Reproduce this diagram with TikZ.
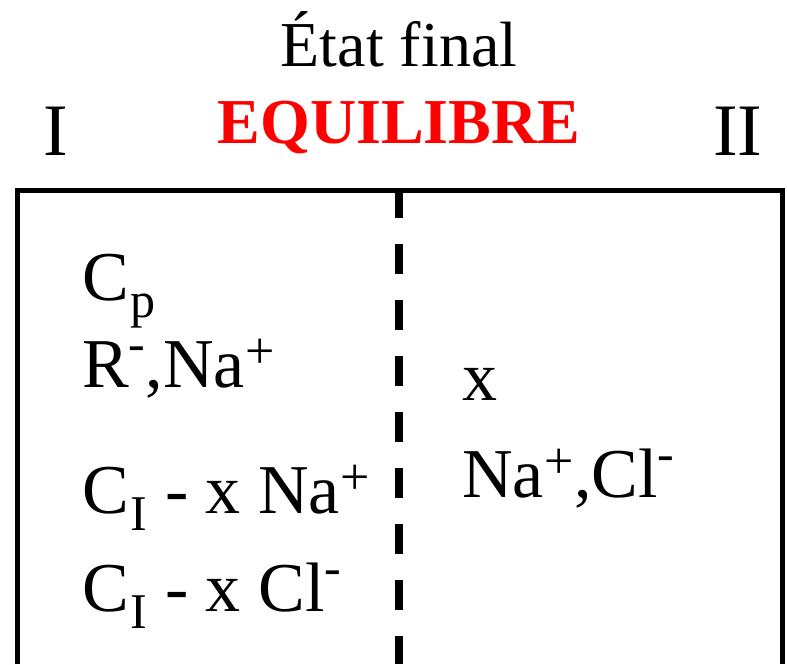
\documentclass[tikz,border=0pt]{standalone}
\usepackage{fontspec}
\setmainfont{Liberation Serif}
\definecolor{eqred}{RGB}{255,0,0}
\newcommand\mysub[1]{\hspace{2pt}\smash{\raisebox{-17pt}{\fontsize{50}{50}\selectfont #1}}}
\newcommand\mysupp[1]{\hspace{1pt}\smash{\raisebox{19pt}{\fontsize{52}{52}\selectfont #1}}}
\newcommand\mysupm[1]{\smash{\raisebox{27pt}{\fontsize{50}{50}\selectfont #1}}}
\tikzset{
  txt/.style={inner sep=0pt, anchor=base west, font=\fontsize{70}{84}\selectfont},
  ttl/.style={inner sep=0pt, anchor=base, font=\fontsize{64}{76}\selectfont},
  roman/.style={inner sep=0pt, anchor=base west, font=\fontsize{74}{88}\selectfont},
  wall/.style={line width=5pt, line join=miter},
  membrane/.style={line width=8pt, dash pattern=on 30pt off 26pt}
}
\begin{document}
\begin{tikzpicture}[x=1pt,y=-1pt]
\useasboundingbox (0,0) rectangle (787,664);
% titles
\node[ttl] (title) at (399,66) {État final};
\node[ttl, text=eqred, font=\fontsize{64}{76}\selectfont\bfseries] (eq) at (399,143) {EQUILIBRE};
\node[roman] (one) at (43,155) {I};
\node[roman] (two) at (713,155) {II};
% container
\coordinate (bl) at (17.5,664);
\coordinate (tl) at (17.5,190);
\coordinate (tr) at (782.5,190);
\coordinate (br) at (782.5,664);
\draw[wall] (bl) -- (tl) -- (tr) -- (br);
\coordinate (mtop) at (399,188);
\coordinate (mbot) at (399,664);
\draw[membrane] (mtop) -- (mbot);
% compartment I
\node[txt] (cp) at (82,300) {C\mysub{p}};
\node[txt] (rna) at (82,387) {R\mysupm{-},Na\mysupp{+}};
\node[txt] (cina) at (82,513) {C\mysub{I} - x Na\mysupp{+}};
\node[txt] (cicl) at (82,611) {C\mysub{I} - x Cl\mysupm{-}};
% compartment II
\node[txt] (xx) at (462,400) {x};
\node[txt] (nacl) at (462,497) {Na\mysupp{+},Cl\mysupm{-}};
\end{tikzpicture}
\end{document}
